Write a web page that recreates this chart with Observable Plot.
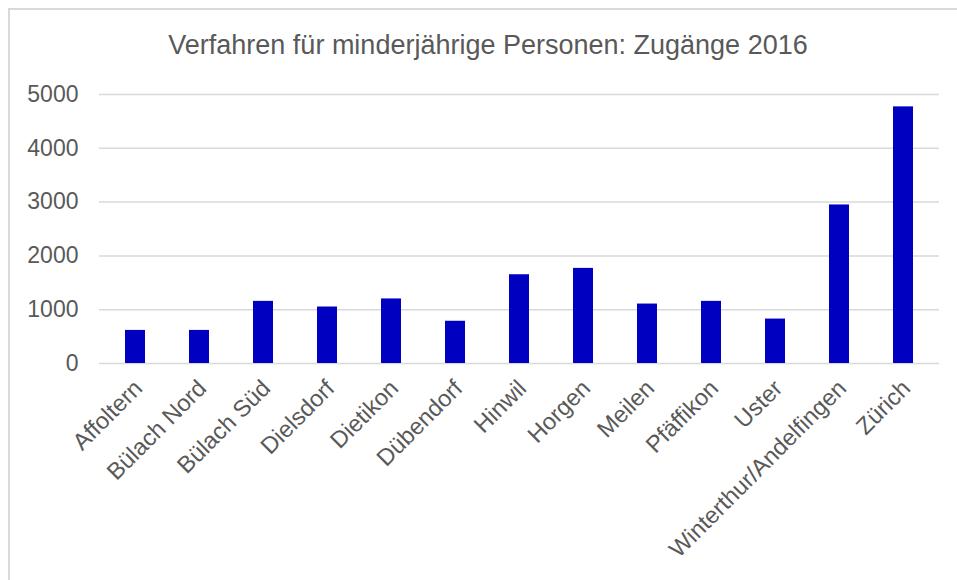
<!DOCTYPE html>
<html>
<head>
<meta charset="utf-8">
<script src="https://cdn.jsdelivr.net/npm/d3@7"></script>
<script src="https://cdn.jsdelivr.net/npm/@observablehq/plot@0.6"></script>
<style>
  html, body { margin: 0; padding: 0; background: #fff; }
  #wrap { position: relative; width: 957px; height: 580px; overflow: hidden; font-family: "Liberation Sans", Arial, sans-serif; }
  #frame { position: absolute; left: 8px; top: 8px; width: 1000px; height: 1000px; border-left: 2px solid #d9d9d9; border-top: 2px solid #d9d9d9; }
  #title { position: absolute; left: 0; top: 30px; width: 976px; text-align: center; font-size: 27px; color: #595959; }
  #chart { position: absolute; left: 0; top: 70px; }
</style>
</head>
<body>
<div id="wrap">
  <div id="frame"></div>
  <div id="title">Verfahren für minderjährige Personen: Zugänge 2016</div>
  <div id="chart"></div>
</div>
<script>
const regions = ["Affoltern", "Bülach Nord", "Bülach Süd", "Dielsdorf", "Dietikon", "Dübendorf", "Hinwil", "Horgen", "Meilen", "Pfäffikon", "Uster", "Winterthur/Andelfingen", "Zürich"];
const values = [615, 615, 1155, 1050, 1200, 785, 1650, 1768, 1105, 1155, 826, 2947, 4770];
const yTicks = [0, 1000, 2000, 3000, 4000, 5000];

const data = regions.map((r, i) => ({region: r, value: values[i]}));

const chart = Plot.plot({
  width: 957,
  height: 510,
  marginLeft: 99,
  marginRight: 18,
  marginTop: 24,
  marginBottom: 217,
  style: {fontFamily: "'Liberation Sans', Arial, sans-serif", fontSize: "23px", color: "#595959", background: "transparent", overflow: "visible"},
  x: {domain: regions, paddingInner: 0.69, paddingOuter: 0.345, label: null},
  y: {domain: [0, 5000], label: null},
  marks: [
    Plot.gridY(yTicks, {stroke: "#d9d9d9", strokeOpacity: 1, strokeWidth: 1.5}),
    Plot.barY(data, {x: "region", y: "value", fill: "#0000c0"}),
    Plot.axisY(yTicks, {tickSize: 0, tickPadding: 21, fontSize: 23, fill: "#595959", label: null, tickFormat: d => String(d)}),
    Plot.axisX({tickSize: 0, tickPadding: 21, dx: 3, tickRotate: -45, fontSize: 23.5, fill: "#595959", label: null})
  ]
});
document.getElementById("chart").appendChild(chart);
</script>
</body>
</html>
